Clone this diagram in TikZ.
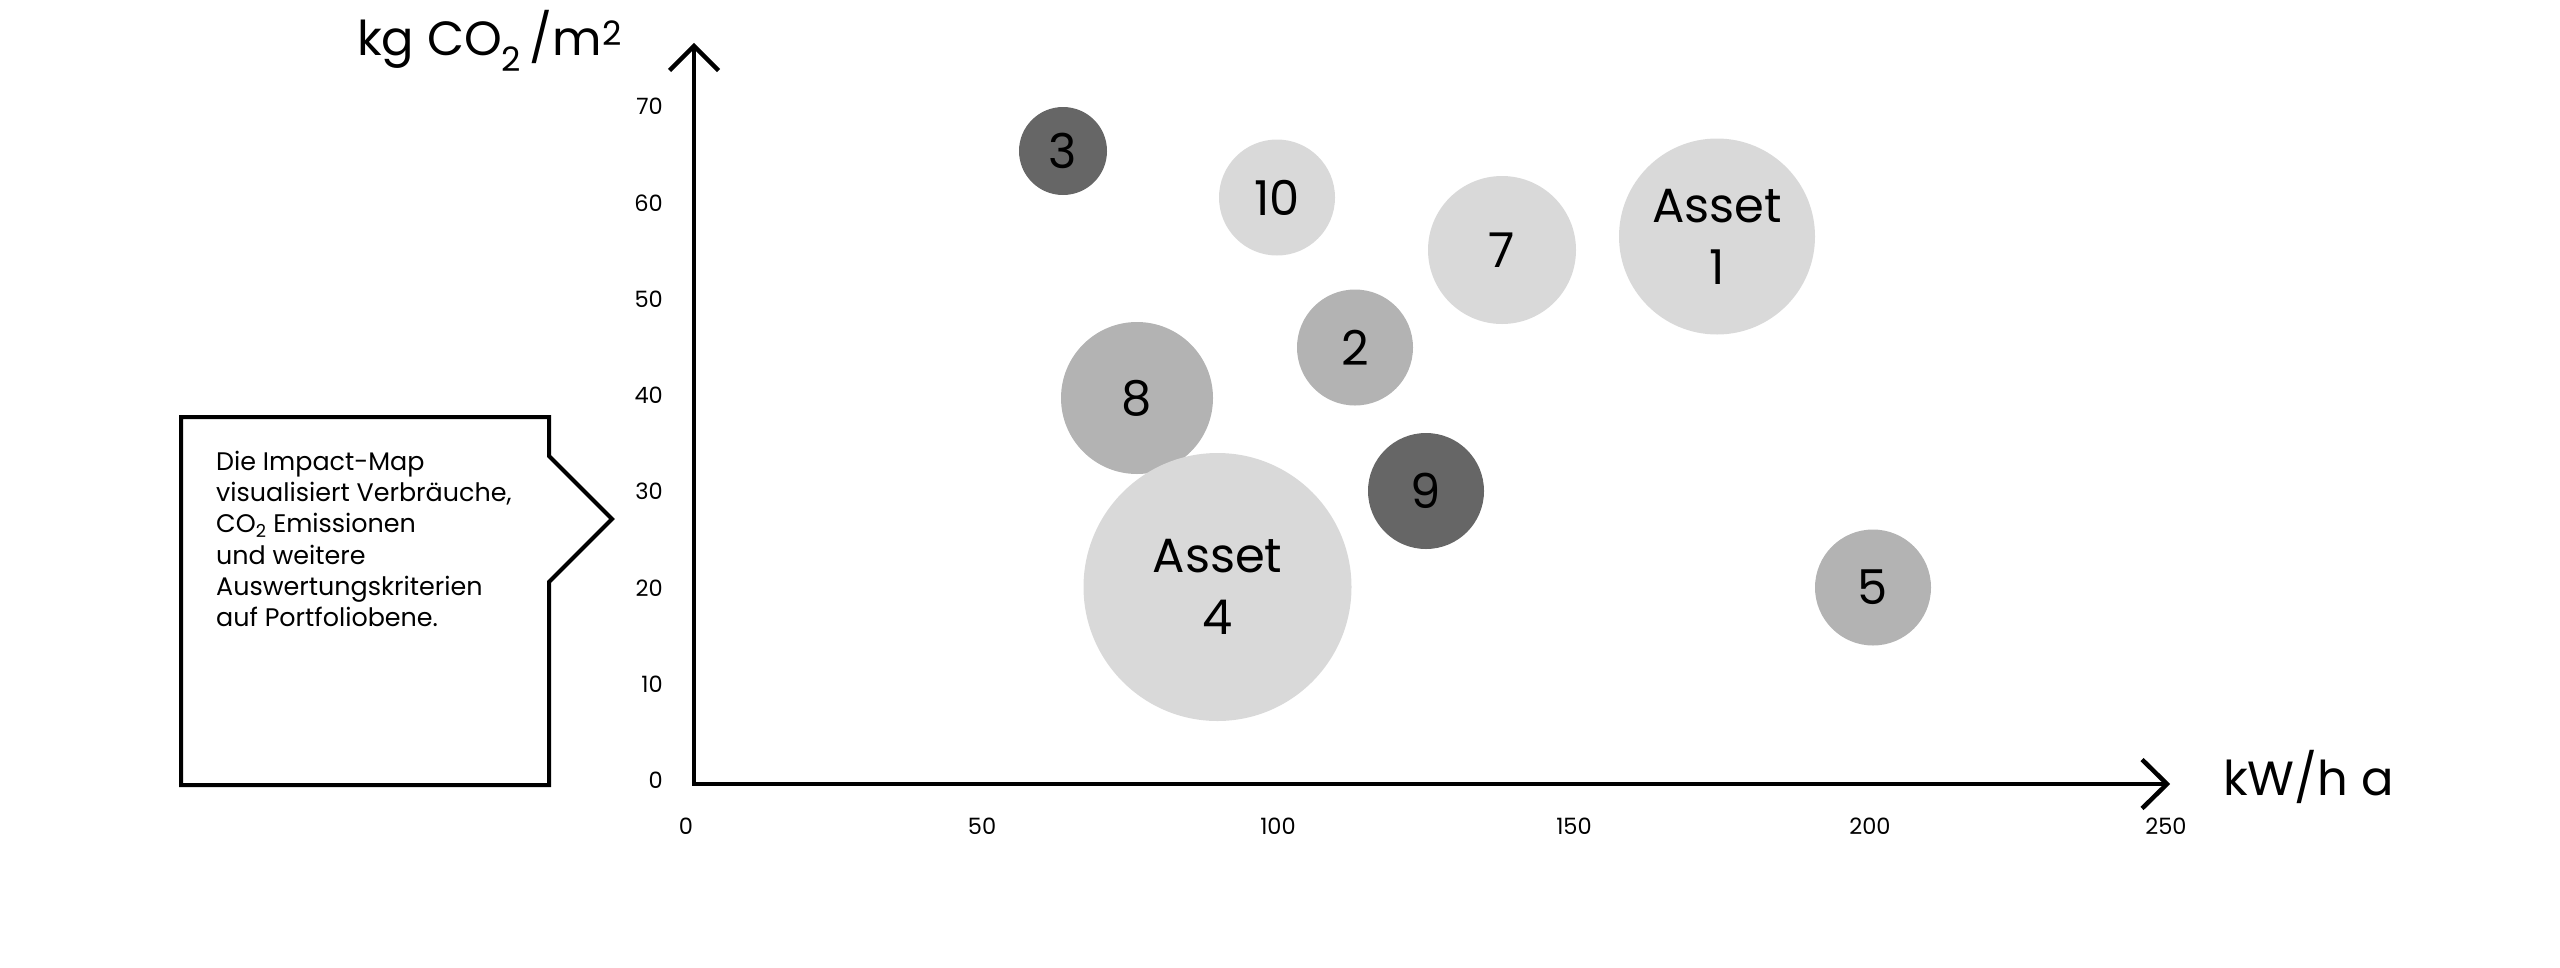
\documentclass[tikz,border=0pt]{standalone}
\usepackage{fontspec}
\setmainfont{Poppins}
\definecolor{lightg}{HTML}{D9D9D9}
\definecolor{midg}{HTML}{B3B3B3}
\definecolor{darkg}{HTML}{666666}
\begin{document}
\begin{tikzpicture}[x=1pt,y=-1pt,
  axisline/.style={line width=4.5pt, line join=miter, line cap=butt},
  bub/.style={circle, inner sep=0pt, align=center, font=\fontsize{48}{62}\selectfont},
  ticklab/.style={inner sep=0pt, font=\fontsize{22.5}{26}\selectfont},
  axlab/.style={inner sep=0pt, font=\fontsize{48}{56}\selectfont},
  infotext/.style={inner sep=0pt, align=left, font=\fontsize{25.4}{31.2}\selectfont}]
\useasboundingbox (0,0) rectangle (2560,967);

% bubbles
\node[bub, fill=darkg,  minimum size=88pt]  (b3)  at (1063,151)   {3};
\node[bub, fill=lightg, minimum size=116pt] (b10) at (1277,197.5) {10};
\node[bub, fill=lightg, minimum size=148pt] (b7)  at (1502,250)   {7};
\node[bub, fill=lightg, minimum size=196pt] (b1)  at (1717,236.5) {Asset\\1};
\node[bub, fill=midg,   minimum size=116pt] (b2)  at (1355,347.5) {2};
\node[bub, fill=midg,   minimum size=152pt] (b8)  at (1137,398)   {8};
\node[bub, fill=lightg, minimum size=268pt] (b4)  at (1217.5,587) {Asset\\4};
\node[bub, fill=darkg,  minimum size=116pt] (b9)  at (1426,491)   {9};
\node[bub, fill=midg,   minimum size=116pt] (b5)  at (1873,587.5) {5};

% axes
\coordinate (O) at (694,784);
\coordinate (ytip) at (694,46);
\coordinate (xtip) at (2167,784);
\draw[axisline] (ytip) -- (O) -- (xtip);
\draw[axisline] ([shift={(-24.5,24.5)}]ytip) -- (ytip) -- ([shift={(24.5,24.5)}]ytip);
\draw[axisline] ([shift={(-25,-24.5)}]xtip) -- (xtip) -- ([shift={(-25,24.5)}]xtip);

% tick labels
\foreach \v/\yy in {0/780,10/684.5,20/588,30/491.5,40/395,50/299,60/203,70/106}
  \node[ticklab, anchor=east] (yl\v) at (663,\yy) {\v};
\foreach \v/\xx in {0/686,50/982,100/1278,150/1574,200/1870,250/2166}
  \node[ticklab] (xl\v) at (\xx,826) {\v};

% axis labels
\node[axlab, anchor=base west] (ylab) at (357,55) {kg CO\textsubscript{2}\,/m\textsuperscript{2}};
\node[axlab, anchor=base west] (xlab) at (2223,795) {kW/h a};

% info box
\draw[line width=4pt, line join=miter] (549,417) -- (549,456) -- (612,519) -- (549,582) -- (549,785) -- (181,785) -- (181,417) -- cycle;
\node[infotext, anchor=north west] (info) at (216,451)
  {Die Impact-Map\\visualisiert Verbräuche,\\CO\textsubscript{2} Emissionen\\und weitere\\Auswertungskriterien\\auf Portfoliobene.};
\end{tikzpicture}
\end{document}
